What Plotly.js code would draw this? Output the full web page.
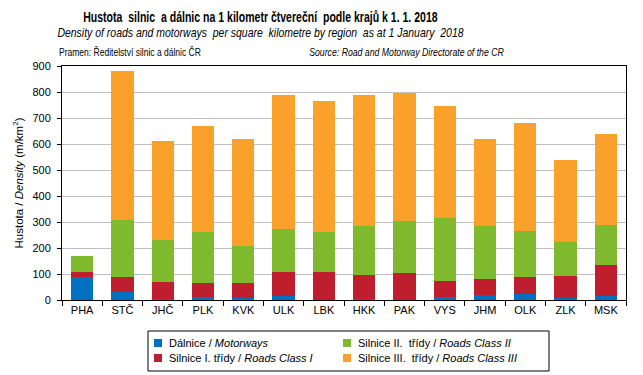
<!DOCTYPE html>
<html>
<head>
<meta charset="utf-8">
<script src="https://cdn.plot.ly/plotly-3.0.1.min.js"></script>
<style>html,body{margin:0;padding:0;background:#fff;}#chart{width:643px;height:375px;}</style>
</head>
<body>
<div id="chart"></div>
<script>
const regions = ['PHA','STČ','JHČ','PLK','KVK','ULK','LBK','HKK','PAK','VYS','JHM','OLK','ZLK','MSK'];
const motorways = [88, 32, 4, 11, 9, 17, 0, 4, 1, 12, 19, 23, 8, 15];
const roadsClass1 = [20, 56, 65, 54, 56, 90, 107, 92, 103, 61, 62, 65, 84, 119];
const roadsClass2 = [61, 219, 161, 196, 142, 166, 154, 188, 199, 242, 203, 177, 131, 154];
const roadsClass3 = [0, 572, 381, 407, 411, 514, 503, 503, 492, 430, 334, 415, 315, 349];
const seriesNames = ['Dálnice / <i>Motorways</i>', 'Silnice I. třídy / <i>Roads Class I</i>', 'Silnice II.  třídy / <i>Roads Class II</i>', 'Silnice III.  třídy / <i>Roads Class III</i>'];
const colors = ['#0070C0', '#BE1E2D', '#7FBA2E', '#F9A12A'];
const vals = [motorways, roadsClass1, roadsClass2, roadsClass3];

const traces = vals.map((v, i) => ({
  type: 'bar', x: regions, y: v, name: seriesNames[i],
  marker: {color: colors[i], line: {width: 0}}, showlegend: false
}));

const font = 'Liberation Sans, Arial, sans-serif';

// plot area in pixels
const L = 62, R = 17, T = 66, B = 75, W = 643, H = 375;
const pw = W - L - R, ph = H - T - B;
const px = v => (v - L) / pw;
const py = v => (H - B - v) / ph;

// manual legend (2 columns x 2 rows)
const legPos = [[154, 343], [154, 358], [343, 343], [343, 358]];
const shapes = [{type: 'rect', xref: 'paper', yref: 'paper', x0: px(148), x1: px(549), y0: py(371), y1: py(331),
  line: {color: '#000', width: 1}, fillcolor: 'rgba(0,0,0,0)'}];
const annotations = [];
legPos.forEach((p, i) => {
  shapes.push({type: 'rect', xref: 'paper', yref: 'paper', x0: px(p[0]), x1: px(p[0] + 8),
    y0: py(p[1] + 4), y1: py(p[1] - 4), line: {width: 0}, fillcolor: colors[i]});
  annotations.push({text: seriesNames[i], xref: 'paper', yref: 'paper', x: px(p[0] + 13), y: py(p[1]),
    xanchor: 'left', yanchor: 'middle', showarrow: false, font: {family: font, size: 11, color: '#000'}});
});

// header texts: [text, left px, right px, centre y px, size, weight, style]
const header = [
  ['Hustota  silnic  a dálnic na 1 kilometr čtvereční  podle krajů k 1. 1. 2018', 83, 438, 17, 14, 'bold', 'normal'],
  ['Density of roads and motorways  per square  kilometre by region  as at 1 January  2018', 57, 464, 33, 12.5, 'normal', 'italic'],
  ['Pramen: Ředitelství silnic a dálnic ČR', 59, 201, 52, 11, 'normal', 'normal'],
  ['Source: Road and Motorway Directorate of the CR', 309, 504, 52, 11, 'normal', 'italic']
];
header.forEach(h => {
  annotations.push({text: h[0], xref: 'paper', yref: 'paper', x: px((h[1] + h[2]) / 2), y: py(h[3]),
    xanchor: 'center', yanchor: 'middle', showarrow: false,
    font: {family: font, size: h[4], color: '#000', weight: h[5], style: h[6]}});
});

const layout = {
  width: W, height: H,
  margin: {l: L, r: R, t: T, b: B, autoexpand: false},
  paper_bgcolor: '#fff', plot_bgcolor: '#fff',
  font: {family: font, size: 11, color: '#000'},
  barmode: 'stack', bargap: 0.45,
  showlegend: false,
  xaxis: {
    type: 'category', tickson: 'boundaries', ticks: 'outside', ticklen: 5, tickcolor: '#000',
    showline: true, linecolor: '#000', linewidth: 1, mirror: true,
    tickfont: {family: font, size: 11, color: '#000'}, showgrid: false
  },
  yaxis: {
    range: [0, 900], dtick: 100, ticks: 'outside', ticklen: 4, tickcolor: '#000',
    showline: true, linecolor: '#000', linewidth: 1, mirror: true,
    gridcolor: '#BFBFBF', gridwidth: 1, zeroline: false, ticklabelstandoff: 4,
    tickfont: {family: font, size: 11, color: '#000'},
    title: {text: 'Hustota / <i>Density</i> (m/km<sup>2</sup>)', font: {family: font, size: 11.5, color: '#000'}, standoff: 6}
  },
  shapes: shapes,
  annotations: annotations
};

Plotly.newPlot('chart', traces, layout, {staticPlot: true, displayModeBar: false}).then(gd => {
  // horizontally condense header texts to the narrow width of the original rendering
  const host = gd.getBoundingClientRect();
  header.forEach((h, k) => {
    const idx = legPos.length + k;
    const t = gd.querySelector('g.annotation[data-index="' + idx + '"] text.annotation-text');
    if (!t) return;
    const bb = t.getBBox();
    const cr = t.getBoundingClientRect();
    const L0 = cr.left - host.left;
    const s = (h[2] - h[1]) / cr.width;
    const X0 = bb.x + (h[1] - L0);
    const tr = t.getAttribute('transform') || '';
    t.setAttribute('transform', tr + ' translate(' + X0.toFixed(2) + ',0) scale(' + s.toFixed(4) + ',1) translate(' + (-bb.x).toFixed(2) + ',0)');
  });
});
</script>
</body>
</html>
